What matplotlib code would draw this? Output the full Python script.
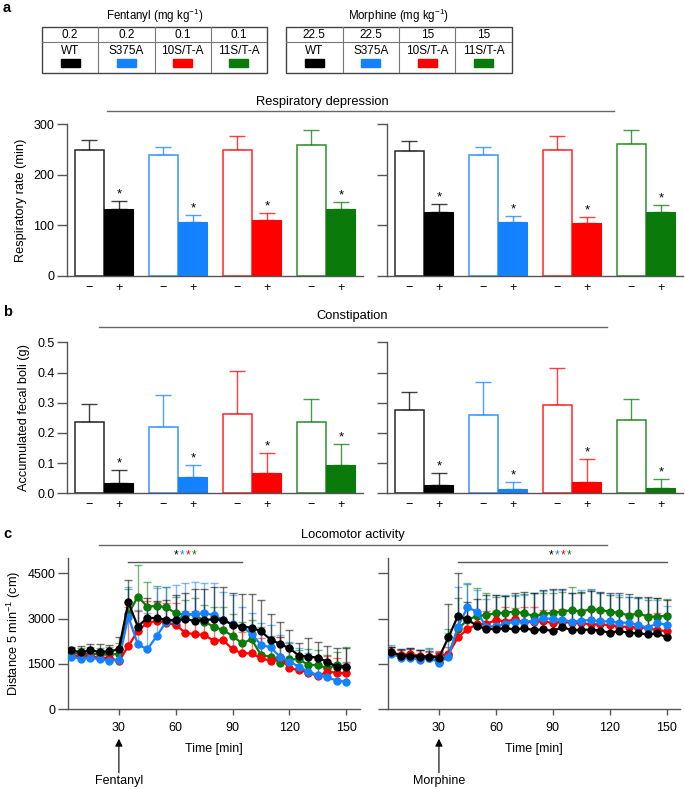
import matplotlib
matplotlib.use('Agg')
import matplotlib.pyplot as plt
import numpy as np
from matplotlib.lines import Line2D
from matplotlib.patches import Rectangle

plt.rcParams['font.family'] = ['Liberation Sans', 'DejaVu Sans']
plt.rcParams['mathtext.fontset'] = 'custom'
plt.rcParams['mathtext.rm'] = 'Liberation Sans'
plt.rcParams['mathtext.it'] = 'Liberation Sans:italic'
plt.rcParams['font.size'] = 8

W, H = 685, 789
TICK_FS = 9
LAB_FS = 9.2
HEAD_FS = 9.3

# ---------------- data ----------------
genotypes = ['WT', 'S375A', '10S/T-A', '11S/T-A']
colors = ['#000000', '#1482ff', '#ff0000', '#0a7a0a']
fent_doses = ['0.2', '0.2', '0.1', '0.1']
morph_doses = ['22.5', '22.5', '15', '15']

# respiratory rate (mean, upper error)
resp_fent_ctrl = [249, 239, 250, 260]
resp_fent_ctrl_err = [20, 17, 27, 28]
resp_fent_drug = [132, 107, 111, 132]
resp_fent_drug_err = [16, 13, 14, 14]
resp_morph_ctrl = [248, 239, 250, 261]
resp_morph_ctrl_err = [18, 17, 27, 28]
resp_morph_drug = [126, 107, 105, 126]
resp_morph_drug_err = [17, 12, 12, 14]

# accumulated fecal boli
fecal_fent_ctrl = [0.235, 0.220, 0.262, 0.235]
fecal_fent_ctrl_err = [0.062, 0.106, 0.144, 0.076]
fecal_fent_drug = [0.034, 0.053, 0.068, 0.094]
fecal_fent_drug_err = [0.044, 0.040, 0.064, 0.068]
fecal_morph_ctrl = [0.276, 0.259, 0.291, 0.243]
fecal_morph_ctrl_err = [0.061, 0.110, 0.125, 0.070]
fecal_morph_drug = [0.027, 0.014, 0.038, 0.018]
fecal_morph_drug_err = [0.041, 0.022, 0.075, 0.028]

# locomotor activity
times = list(range(5, 151, 5))
fent_wt = [1952, 1886, 1952, 1897, 1919, 1985, 3541, 2735, 3033, 3011, 2967, 2945, 2989, 2923, 2956,
           2978, 2956, 2802, 2735, 2702, 2581, 2305, 2162, 2018, 1776, 1743, 1710, 1566, 1412, 1412]
fent_wt_top = [2074, 2107, 2150, 2150, 2129, 2404, 4280, 3651, 3673, 3585, 3618, 3783, 3838, 3971, 3971,
               4057, 4035, 3838, 3805, 3805, 3617, 3154, 2900, 2624, 2184, 2349, 2239, 2096, 2018, 2018]
fent_s375a = [1743, 1666, 1710, 1655, 1610, 1632, 3065, 2150, 1985, 2425, 2900, 2921, 3144, 3155, 3176,
              3121, 2955, 2812, 2735, 2492, 2128, 2052, 1742, 1576, 1411, 1245, 1135, 1059, 947, 914]
fent_s375a_top = [1990, 1950, 1990, 1960, 1940, 1990, 4037, 3287, 3200, 4004, 4059, 4114, 4169, 4225, 4191,
                  4191, 3894, 3783, 3375, 3177, 2846, 2790, 2460, 2239, 2018, 1853, 1743, 1632, 1522, 1522]
fent_10s = [1776, 1743, 1776, 1688, 1710, 1590, 2096, 2591, 2866, 2921, 2866, 2790, 2537, 2482, 2458,
            2270, 2292, 1985, 1853, 1853, 1687, 1608, 1720, 1356, 1301, 1212, 1102, 1245, 1212, 1190]
fent_10s_top = [1950, 1940, 1950, 1900, 1900, 1950, 3375, 3265, 3596, 3563, 3530, 3510, 3265, 3240, 3240,
                3044, 2956, 2713, 2570, 2460, 2349, 2239, 2405, 2018, 1765, 1710, 1632, 1765, 1688, 1555]
fent_11s = [1875, 1820, 1842, 1820, 1820, 1831, 3155, 3728, 3397, 3419, 3375, 3177, 3122, 3155, 2900,
            2735, 2624, 2425, 2184, 2316, 1797, 1742, 1543, 1654, 1654, 1467, 1467, 1357, 1467, 1412]
fent_11s_top = [2018, 2018, 2052, 2018, 2074, 2184, 3971, 4776, 4225, 4081, 4059, 3728, 3618, 3673, 3452,
                3375, 3397, 3155, 2901, 2956, 2735, 2427, 2383, 2184, 1963, 1985, 1963, 1798, 1908, 2052]

morph_wt = [1886, 1776, 1776, 1743, 1743, 1710, 2383, 3089, 2978, 2757, 2658, 2658, 2680, 2647, 2680,
            2624, 2647, 2591, 2713, 2625, 2625, 2640, 2603, 2535, 2590, 2535, 2513, 2480, 2513, 2382]
morph_wt_top = [2052, 1985, 2018, 1963, 1940, 1875, 3486, 4500, 3563, 3640, 3783, 3783, 3750, 3838, 3894,
                3860, 3949, 3971, 3980, 3838, 3894, 3920, 3894, 3860, 3838, 3816, 3728, 3728, 3673, 3618]
morph_s375a = [1831, 1710, 1710, 1632, 1710, 1544, 1743, 2735, 3375, 3232, 2713, 2768, 2824, 2901, 2899,
               2930, 3011, 2990, 2960, 2899, 2930, 2960, 2910, 2910, 2866, 2866, 2789, 2700, 2850, 2800]
morph_s375a_top = [2129, 2000, 2000, 1960, 1980, 1900, 2537, 4059, 4169, 3950, 3640, 3783, 3783, 3760, 3783,
                   3838, 3916, 3949, 3949, 3838, 3949, 3949, 3838, 3783, 3783, 3728, 3673, 3673, 3618, 3420]
morph_10s = [1886, 1798, 1831, 1765, 1743, 1765, 1831, 2383, 2647, 2813, 2824, 2956, 2901, 2978, 2877,
             2899, 2920, 2855, 2899, 2855, 2855, 2810, 2810, 2790, 2734, 2734, 2700, 2700, 2610, 2591]
morph_10s_top = [2074, 1963, 2018, 1963, 1908, 1930, 2052, 3044, 3342, 3254, 3254, 3254, 3375, 3342, 3375,
                 3397, 3287, 3287, 3309, 3254, 3287, 3287, 3232, 3199, 3199, 3177, 3155, 3155, 3199, 3155]
morph_11s = [1853, 1765, 1765, 1720, 1710, 1555, 1798, 2658, 2956, 3089, 3122, 3177, 3199, 3232, 3176,
             3087, 3150, 3198, 3230, 3286, 3230, 3319, 3286, 3230, 3198, 3099, 3176, 3065, 3065, 3098]
morph_11s_top = [2074, 1963, 1985, 1963, 2018, 1908, 2647, 3673, 4147, 4004, 3838, 3728, 3750, 3783, 3816,
                 3838, 3838, 3860, 3894, 4059, 3838, 3971, 3838, 3783, 3728, 3728, 3673, 3618, 3673, 3640]

fent_means = [fent_wt, fent_s375a, fent_10s, fent_11s]
fent_tops = [fent_wt_top, fent_s375a_top, fent_10s_top, fent_11s_top]
morph_means = [morph_wt, morph_s375a, morph_10s, morph_11s]
morph_tops = [morph_wt_top, morph_s375a_top, morph_10s_top, morph_11s_top]

# ---------------- helpers ----------------
def px(l, t, r, b):
    return [l / W, 1 - b / H, (r - l) / W, (b - t) / H]

def ftext(x, y, s, **kw):
    fig.text(x / W, 1 - y / H, s, **kw)

def fline(x0, x1, y, color='#666666', lw=1.0):
    fig.add_artist(Line2D([x0 / W, x1 / W], [1 - y / H, 1 - y / H], color=color, lw=lw,
                          transform=fig.transFigure))

SPINE = '#555555'

fig = plt.figure(figsize=(W / 100, H / 100), dpi=100)

# ---------------- tables ----------------
def draw_table(l, t, r, b, title, doses):
    ax = fig.add_axes(px(l, t, r, b))
    ax.set_xlim(0, 4)
    ax.set_ylim(1, 0)
    ax.axis('off')
    ax.add_patch(Rectangle((0, 0), 4, 1, fill=False, ec='#444444', lw=1.0, clip_on=False))
    ax.plot([0, 4], [0.32, 0.32], color='#777777', lw=0.8)
    for i in range(1, 4):
        ax.plot([i, i], [0, 1], color='#777777', lw=0.8)
    for i in range(4):
        ax.text(i + 0.5, 0.17, doses[i], ha='center', va='center', fontsize=8.5)
        ax.text(i + 0.5, 0.53, genotypes[i], ha='center', va='center', fontsize=8.5)
        ax.add_patch(Rectangle((i + 0.33, 0.70), 0.34, 0.17, color=colors[i]))
    ftext((l + r) / 2, 16, title, ha='center', va='center', fontsize=8.3)

draw_table(42, 27, 267, 73, 'Fentanyl (mg kg$^{-1}$)', fent_doses)
draw_table(286, 27, 512, 73, 'Morphine (mg kg$^{-1}$)', morph_doses)

# ---------------- bar panels ----------------
def bar_panel(rect, ctrl, ctrl_e, drug, drug_e, ymax, yticks, ylabels):
    ax = fig.add_axes(rect)
    x = np.arange(4)
    for i in range(4):
        ax.bar(x[i] - 0.2, ctrl[i], 0.39, color='white', edgecolor=colors[i], lw=1.1, zorder=2, alpha=0.85)
        ax.errorbar(x[i] - 0.2, ctrl[i], yerr=[[0], [ctrl_e[i]]], fmt='none', ecolor=colors[i],
                    elinewidth=1.0, capsize=5.5, capthick=1.0, alpha=0.75, zorder=1)
        ax.bar(x[i] + 0.2, drug[i], 0.39, color=colors[i], edgecolor=colors[i], lw=0.8, zorder=2)
        ax.errorbar(x[i] + 0.2, drug[i], yerr=[[0], [drug_e[i]]], fmt='none', ecolor=colors[i],
                    elinewidth=1.0, capsize=5.5, capthick=1.0, alpha=0.75, zorder=1)
        ax.annotate('*', (x[i] + 0.2, drug[i] + drug_e[i]), xytext=(0, 0.5), textcoords='offset points',
                    ha='center', va='bottom', fontsize=9.5, annotation_clip=False)
    ax.set_xlim(-0.5, 3.5)
    ax.set_ylim(0, ymax)
    ax.set_xticks([p for i in x for p in (i - 0.2, i + 0.2)])
    ax.set_xticklabels(['\u2212', '+'] * 4, fontsize=TICK_FS)
    ax.tick_params(axis='x', length=0, pad=4)
    ax.set_yticks(yticks)
    ax.set_yticklabels(ylabels, fontsize=TICK_FS)
    ax.tick_params(axis='y', length=7, width=1.0, color=SPINE, pad=2)
    for s in ['top', 'right']:
        ax.spines[s].set_visible(False)
    for s in ['left', 'bottom']:
        ax.spines[s].set_color(SPINE)
        ax.spines[s].set_linewidth(1.0)
    ax.set_facecolor('none')
    return ax

ax1 = bar_panel(px(67, 124.3, 363, 276), resp_fent_ctrl, resp_fent_ctrl_err, resp_fent_drug,
                resp_fent_drug_err, 300, [0, 100, 200, 300], ['0', '100', '200', '300'])
ax1.set_ylabel('Respiratory rate (min)', fontsize=LAB_FS, labelpad=5)
ax2 = bar_panel(px(387, 124.3, 683, 276), resp_morph_ctrl, resp_morph_ctrl_err, resp_morph_drug,
                resp_morph_drug_err, 300, [0, 100, 200, 300], [''] * 4)

fticks = [0, 0.1, 0.2, 0.3, 0.4, 0.5]
ax3 = bar_panel(px(67, 342.3, 363, 493.3), fecal_fent_ctrl, fecal_fent_ctrl_err, fecal_fent_drug,
                fecal_fent_drug_err, 0.5, fticks, ['%.1f' % v for v in fticks])
ax3.set_ylabel('Accumulated fecal boli (g)', fontsize=LAB_FS, labelpad=5)
ax4 = bar_panel(px(387, 342.3, 683, 493.3), fecal_morph_ctrl, fecal_morph_ctrl_err, fecal_morph_drug,
                fecal_morph_drug_err, 0.5, fticks, [''] * 6)

# headers
ftext(322, 102, 'Respiratory depression', ha='center', va='center', fontsize=HEAD_FS)
fline(107, 614, 111)
ftext(352, 316, 'Constipation', ha='center', va='center', fontsize=HEAD_FS)
fline(99, 607, 327)
ftext(353, 535, 'Locomotor activity', ha='center', va='center', fontsize=HEAD_FS)
fline(99, 607, 545)

# panel letters
ftext(3, 8, 'a', ha='left', va='center', fontsize=10.5, fontweight='bold')
ftext(3, 312, 'b', ha='left', va='center', fontsize=10.5, fontweight='bold')
ftext(3, 534, 'c', ha='left', va='center', fontsize=10.5, fontweight='bold')

# ---------------- locomotor panels ----------------
star_colors = colors

def loc_panel(rect, means, tops, ylab, drug, sig_range, star_t):
    ax = fig.add_axes(rect)
    order = [3, 2, 1, 0]
    t = np.array(times)
    for k in order:
        m = np.array(means[k])
        tp = np.array(tops[k])
        ax.errorbar(t, m, yerr=[np.zeros_like(m), tp - m], fmt='none', ecolor=colors[k],
                    elinewidth=1.0, capsize=3.2, capthick=1.0, alpha=0.55, zorder=2)
        ax.plot(t, m, '-o', color=colors[k], ms=5, lw=1.6, zorder=3)
    ax.set_xlim(3, 157)
    ax.set_ylim(0, 5000)
    ax.set_xticks([30, 60, 90, 120, 150])
    ax.set_xticklabels(['30', '60', '90', '120', '150'], fontsize=TICK_FS)
    ax.set_yticks([0, 1500, 3000, 4500])
    ax.set_yticklabels(['0', '1500', '3000', '4500'] if ylab else [''] * 4, fontsize=TICK_FS)
    ax.tick_params(axis='y', length=7, width=1.0, color=SPINE, pad=2)
    ax.tick_params(axis='x', length=4, width=1.0, color=SPINE, pad=5)
    for s in ['top', 'right']:
        ax.spines[s].set_visible(False)
    for s in ['left', 'bottom']:
        ax.spines[s].set_color(SPINE)
        ax.spines[s].set_linewidth(1.0)
    ax.set_facecolor('none')
    if ylab:
        ax.set_ylabel('Distance 5 min$^{-1}$ (cm)', fontsize=LAB_FS, labelpad=3)
    ax.text(0.5, -0.265, 'Time [min]', transform=ax.transAxes, ha='center', va='center', fontsize=TICK_FS)
    tr = ax.get_xaxis_transform()
    ax.annotate('', xy=(30, -0.195), xycoords=tr, xytext=(30, -0.42), textcoords=tr,
                arrowprops=dict(arrowstyle='-|>', color='black', lw=0.8, mutation_scale=11,
                                shrinkA=0, shrinkB=0), annotation_clip=False)
    ax.text(30, -0.475, drug, transform=tr, ha='center', va='center', fontsize=TICK_FS)
    ax.plot(sig_range, [4890, 4890], color='#555555', lw=1.0, clip_on=False)
    for j, c in enumerate(star_colors):
        ax.annotate('*', (star_t, 4890), xytext=(-6.5 + 4.3 * j, 0), textcoords='offset points',
                    ha='center', va='bottom', fontsize=8.5, color=c, annotation_clip=False)
    return ax

loc_panel(px(67.7, 558.2, 359.6, 709.3), fent_means, fent_tops, True, 'Fentanyl', [35, 95], 65)
loc_panel(px(387.7, 558.2, 680, 709.3), morph_means, morph_tops, False, 'Morphine', [40, 150], 94)

fig.savefig('out.png', dpi=100)
